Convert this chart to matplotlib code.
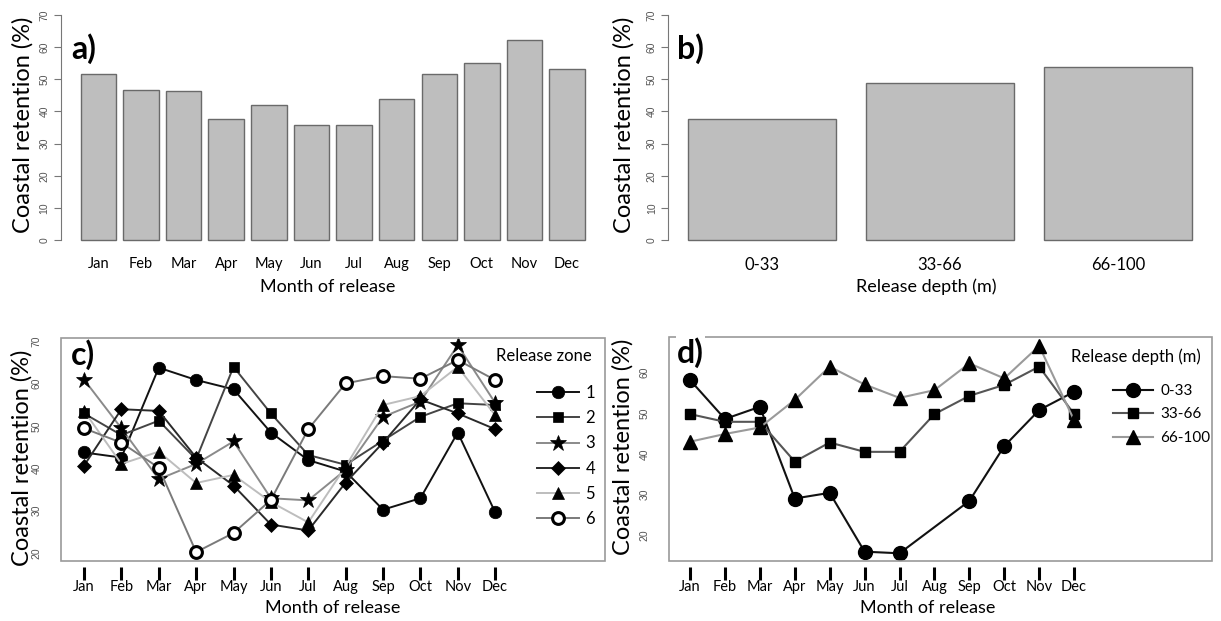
import numpy as np
import matplotlib
matplotlib.use("Agg")
import matplotlib.pyplot as plt
from matplotlib.patches import Rectangle

plt.rcParams['font.family'] = ['Lato', 'DejaVu Sans']

# ---------------- data ----------------
months = ["Jan", "Feb", "Mar", "Apr", "May", "Jun", "Jul", "Aug", "Sep", "Oct", "Nov", "Dec"]
retention_month = [51.6, 46.7, 46.5, 37.6, 42.0, 35.8, 35.8, 43.8, 51.6, 55.1, 62.1, 53.2]

depth_classes = ["0-33", "33-66", "66-100"]
retention_depth = [37.6, 48.9, 53.7]

zone_labels = ["1", "2", "3", "4", "5", "6"]
zone1 = [43.7, 42.5, 63.7, 60.8, 58.6, 48.4, 41.9, 39.2, 30.2, 32.9, 48.4, 29.6]
zone2 = [52.9, 47.8, 51.2, 42.1, 63.9, 52.9, 43.1, 40.8, 46.5, 52.1, 55.3, 54.9]
zone3 = [60.9, 49.4, 37.4, 41.0, 46.3, 32.9, 32.4, 39.6, 52.1, 55.7, 69.0, 55.4]
zone4 = [40.6, 53.9, 53.5, 42.5, 35.9, 26.7, 25.3, 36.6, 46.0, 56.2, 52.9, 49.2]
zone5 = [53.5, 41.0, 43.9, 36.5, 38.4, 32.0, 27.2, 40.4, 54.9, 57.0, 63.9, 52.5]
zone6 = [49.4, 46.0, 40.1, 20.2, 24.7, 32.5, 49.2, 60.0, 61.7, 61.1, 65.5, 60.8]

depth_0_33 = [58.2, 48.6, 51.6, 29.0, 30.4, 15.9, 15.5, None, 28.4, 41.9, 50.8, 55.3]
depth_33_66 = [49.8, 47.9, 47.9, 38.1, 42.8, 40.5, 40.5, 49.8, 54.3, 57.0, 61.5, 49.8]
depth_66_100 = [43.0, 44.9, 46.5, 53.3, 61.5, 57.1, 53.8, 55.7, 62.3, 58.6, 66.6, 48.3]

# ---------------- figure ----------------
W, H = 1221, 621
fig = plt.figure(figsize=(W / 100, H / 100), dpi=100)


def ax_px(left, top, right, bottom):
    return fig.add_axes([left / W, 1 - bottom / H, (right - left) / W, (bottom - top) / H])


def ftext(x, y, s, **kw):
    fig.text(x / W, 1 - y / H, s, **kw)


BAR_FC = "#bebebe"
BAR_EC = "#6a6a6a"
YT_COLOR = "#555555"
YT_SIZE = 7.5
LBL_SIZE = 17
XL_SIZE = 13
MON_SIZE = 10.5
PANEL_SIZE = 23
LEG_SIZE = 12


def style_bar_axes(ax):
    for s in ["top", "right", "bottom"]:
        ax.spines[s].set_visible(False)
    ax.spines["left"].set_bounds(0, 70)
    ax.spines["left"].set_color("#777777")
    ax.set_ylim(-2.8, 72.8)
    ax.set_yticks(np.arange(0, 71, 10))
    ax.tick_params(axis="y", length=5, color="#777777", labelsize=YT_SIZE,
                   labelcolor=YT_COLOR, labelrotation=90, pad=3)
    for t in ax.get_yticklabels():
        t.set_va("center")
        t.set_family("Liberation Sans")
    ax.tick_params(axis="x", length=0, pad=6, labelsize=MON_SIZE)


# ---- panel a ----
axa = ax_px(60.5, 6, 605, 249)
xa = 0.7 + 1.2 * np.arange(len(months))
axa.bar(xa, retention_month, width=1.0, color=BAR_FC, edgecolor=BAR_EC, linewidth=1.0)
axa.set_xlim(-0.368, 14.968)
axa.set_xticks(xa)
axa.set_xticklabels(months)
style_bar_axes(axa)
ftext(23, 125, "Coastal retention (%)", rotation=90, ha="center", va="center", fontsize=LBL_SIZE)
ftext(328, 287, "Month of release", ha="center", va="center", fontsize=XL_SIZE)
ftext(71, 49, "a)", ha="left", va="center", fontsize=PANEL_SIZE, fontweight="bold")

# ---- panel b ----
axb = ax_px(668, 6, 1212, 249)
xb = 0.7 + 1.2 * np.arange(len(depth_classes))
axb.bar(xb, retention_depth, width=1.0, color=BAR_FC, edgecolor=BAR_EC, linewidth=1.0)
axb.set_xlim(0.064, 3.736)
axb.set_xticks(xb)
axb.set_xticklabels(depth_classes)
style_bar_axes(axb)
axb.tick_params(axis="x", labelsize=12)
ftext(624, 125, "Coastal retention (%)", rotation=90, ha="center", va="center", fontsize=LBL_SIZE)
ftext(926, 287, "Release depth (m)", ha="center", va="center", fontsize=XL_SIZE)
ftext(677, 49, "b)", ha="left", va="center", fontsize=PANEL_SIZE, fontweight="bold")


def style_line_axes(ax, ylim, yticks):
    for s in ax.spines.values():
        s.set_color("none")
    ax.spines["bottom"].set_position(("outward", 4))
    ax.add_patch(Rectangle((0, 0), 1, 1, transform=ax.transAxes, fill=False,
                           edgecolor="#9a9a9a", linewidth=1.2, clip_on=False, zorder=5))
    ax.set_ylim(*ylim)
    ax.set_yticks(yticks)
    ax.tick_params(axis="y", length=0, labelsize=YT_SIZE, labelcolor=YT_COLOR,
                   labelrotation=90, pad=14)
    for t in ax.get_yticklabels():
        t.set_va("center")
        t.set_family("Liberation Sans")
    ax.set_xticks(np.arange(1, 13))
    ax.set_xticklabels(months)
    ax.tick_params(axis="x", length=9, width=2.2, color="black", direction="out",
                   labelsize=MON_SIZE, pad=1)


# ---- panel c ----
C_L, C_T, C_R, C_B = 61, 338, 605, 561
axc = ax_px(C_L, C_T, C_R, C_B)
xm = np.arange(1, 13)
zones = [zone1, zone2, zone3, zone4, zone5, zone6]
zcolors = ["#111111", "#444444", "#8a8a8a", "#2a2a2a", "#bdbdbd", "#7a7a7a"]
zmarkers = ["o", "s", "*", "D", "^", "o"]
zms = [9, 7.5, 12, 7, 9, 8.5]
handles = []
for vals, col, mk, ms, lab in zip(zones, zcolors, zmarkers, zms, zone_labels):
    mfc = "white" if lab == "6" else "black"
    mew = 2.2 if lab == "6" else 0.5
    ln, = axc.plot(xm, vals, color=col, linewidth=1.4, marker=mk, markersize=ms,
                   markerfacecolor=mfc, markeredgecolor="black", markeredgewidth=mew,
                   label=lab, clip_on=False)
    handles.append(ln)
axc.set_xlim(0.384, 14.94)
style_line_axes(axc, (18.1, 70.7), [20, 30, 40, 50, 60, 70])
axc.legend(handles=handles, loc="upper left",
           bbox_to_anchor=((537 - C_L) / (C_R - C_L), 1 - (385 - C_T) / (C_B - C_T)),
           frameon=False, fontsize=LEG_SIZE, handlelength=2.5,
           handletextpad=0.4, labelspacing=0.55, borderpad=0, borderaxespad=0)
ftext(592, 356, "Release zone", ha="right", va="center", fontsize=LEG_SIZE)
ftext(22, 458, "Coastal retention (%)", rotation=90, ha="center", va="center", fontsize=LBL_SIZE)
ftext(333, 608, "Month of release", ha="center", va="center", fontsize=XL_SIZE)
ftext(71, 355, "c)", ha="left", va="center", fontsize=PANEL_SIZE, fontweight="bold")

# ---- panel d ----
D_L, D_T, D_R, D_B = 669, 337, 1212, 561
axd = ax_px(D_L, D_T, D_R, D_B)
depths = [depth_0_33, depth_33_66, depth_66_100]
dcolors = ["#111111", "#555555", "#9a9a9a"]
dmarkers = ["o", "s", "^"]
dms = [10, 7.5, 9.5]
dh = []
for vals, col, mk, ms, lab in zip(depths, dcolors, dmarkers, dms, depth_classes):
    arr = np.array([np.nan if v is None else v for v in vals], dtype=float)
    ok = ~np.isnan(arr)
    ln, = axd.plot(xm[ok], arr[ok], color=col, linewidth=1.5, marker=mk, markersize=ms,
                   markerfacecolor="black", markeredgecolor="black", label=lab, clip_on=False)
    dh.append(ln)
axd.set_xlim(0.398, 15.95)
style_line_axes(axd, (13.6, 68.8), [20, 30, 40, 50, 60])
axd.legend(handles=dh, loc="upper left",
           bbox_to_anchor=((1113 - D_L) / (D_R - D_L), 1 - (384 - D_T) / (D_B - D_T)),
           frameon=False, fontsize=11, handlelength=2.6,
           handletextpad=0.5, labelspacing=0.62, borderpad=0, borderaxespad=0)
ftext(1201, 357, "Release depth (m)", ha="right", va="center", fontsize=LEG_SIZE)
ftext(623, 447, "Coastal retention (%)", rotation=90, ha="center", va="center", fontsize=LBL_SIZE)
ftext(928, 608, "Month of release", ha="center", va="center", fontsize=XL_SIZE)
ftext(677, 353, "d)", ha="left", va="center", fontsize=PANEL_SIZE, fontweight="bold",
      bbox=dict(facecolor="white", edgecolor="none", pad=1))

fig.savefig("out.png", dpi=100)
